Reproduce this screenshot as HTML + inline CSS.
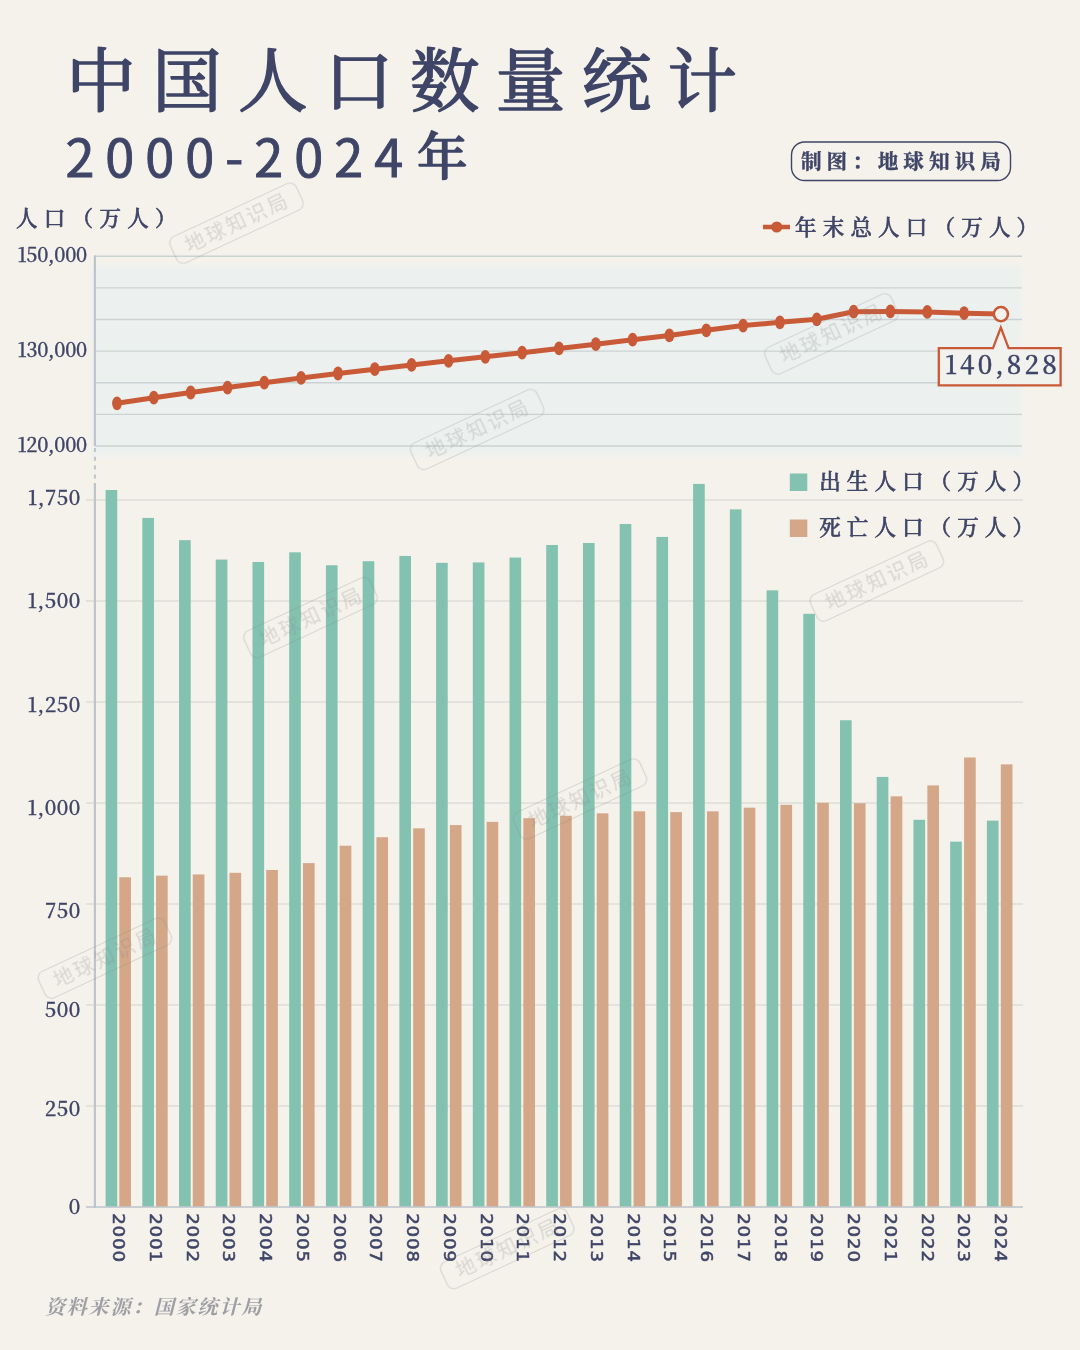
<!DOCTYPE html>
<html lang="zh-CN"><head><meta charset="utf-8"><title>中国人口数量统计 2000-2024年</title>
<style>
html,body{margin:0;padding:0;background:#f5f2eb;}
body{width:1080px;height:1350px;overflow:hidden;}
svg{display:block;}
text{font-family:"Noto Serif CJK SC","Liberation Serif",serif;fill:#3f4567;}
.title{font-size:69.5px;font-weight:400;letter-spacing:16.4px;stroke:#3f4567;stroke-width:1.7px;stroke-linejoin:round;}
.sub{font-family:"Noto Sans CJK SC","Liberation Sans",sans-serif;font-size:52.2px;font-weight:400;letter-spacing:11px;stroke:#3f4567;stroke-width:0.9px;}
.subc{font-family:"Noto Serif CJK SC","Liberation Serif",serif;font-size:50.6px;font-weight:500;stroke:#3f4567;stroke-width:1.4px;stroke-linejoin:round;}
.ylab{font-size:20.3px;font-weight:500;text-anchor:end;letter-spacing:0.5px;stroke:#3f4567;stroke-width:0.35px;}
.ylabt{font-size:19.6px;font-weight:500;text-anchor:end;letter-spacing:-0.25px;stroke:#3f4567;stroke-width:0.35px;}
.unit{font-size:21.5px;font-weight:500;letter-spacing:6.3px;stroke:#3f4567;stroke-width:0.6px;}
.leg{font-size:21.5px;font-weight:500;letter-spacing:6.2px;stroke:#3f4567;stroke-width:0.6px;}
.badge{font-size:20.6px;font-weight:700;letter-spacing:5px;stroke:#3f4567;stroke-width:0.4px;}
.year{font-family:"DejaVu Sans","Liberation Sans",sans-serif;font-size:17px;letter-spacing:0.8px;stroke:#3f4567;stroke-width:0.55px;}
.src{font-size:20px;font-weight:700;font-style:italic;fill:#9e9fa4;letter-spacing:1.8px;}
.call{font-size:25.6px;font-weight:500;letter-spacing:3.1px;stroke:#3f4567;stroke-width:0.5px;}
.wm text{font-family:"Noto Sans CJK SC","Liberation Sans",sans-serif;font-size:20px;font-weight:400;fill:#8a8a8a;letter-spacing:2.6px;text-anchor:middle;}
</style></head><body>
<svg width="1080" height="1350" viewBox="0 0 1080 1350">
<defs><filter id="bl" x="-5%" y="-10%" width="110%" height="120%"><feGaussianBlur stdDeviation="2.8"/></filter></defs>
<rect width="1080" height="1350" fill="#f5f2eb"/>

<text class="title" x="66.3" y="105.6">中国人口数量统计</text>
<text class="sub" x="65.4" y="177">2000-2024</text><text class="subc" x="417" y="175.3">年</text>
<rect x="791.5" y="142" width="219" height="38.5" rx="13" ry="13" fill="none" stroke="#3f4567" stroke-width="1.4"/>
<text class="badge" x="801" y="169.1">制图：地球知识局</text>
<text class="unit" x="16" y="226">人口（万人）</text>
<line x1="763" y1="227" x2="790" y2="227" stroke="#c95a38" stroke-width="4.5"/><circle cx="776.7" cy="227" r="5.6" fill="#c95a38"/>
<text class="leg" x="795" y="235">年末总人口（万人）</text>
<rect x="92" y="265.5" width="929" height="190.3" fill="#ecf1ef" filter="url(#bl)"/>
<line x1="95" y1="256.30" x2="1022" y2="256.30" stroke="#ccd2d3" stroke-width="1.4"/>
<line x1="95" y1="287.92" x2="1022" y2="287.92" stroke="#ccd2d3" stroke-width="1.4"/>
<line x1="95" y1="319.54" x2="1022" y2="319.54" stroke="#ccd2d3" stroke-width="1.4"/>
<line x1="95" y1="351.16" x2="1022" y2="351.16" stroke="#ccd2d3" stroke-width="1.4"/>
<line x1="95" y1="382.78" x2="1022" y2="382.78" stroke="#ccd2d3" stroke-width="1.4"/>
<line x1="95" y1="414.40" x2="1022" y2="414.40" stroke="#ccd2d3" stroke-width="1.4"/>
<line x1="95" y1="446.02" x2="1022" y2="446.02" stroke="#ccd2d3" stroke-width="1.4"/>
<line x1="86" y1="1207.00" x2="1023" y2="1207.00" stroke="#d2d2cf" stroke-width="1.15"/>
<line x1="86" y1="1106.00" x2="1023" y2="1106.00" stroke="#d2d2cf" stroke-width="1.15"/>
<line x1="86" y1="1005.00" x2="1023" y2="1005.00" stroke="#d2d2cf" stroke-width="1.15"/>
<line x1="86" y1="904.00" x2="1023" y2="904.00" stroke="#d2d2cf" stroke-width="1.15"/>
<line x1="86" y1="803.00" x2="1023" y2="803.00" stroke="#d2d2cf" stroke-width="1.15"/>
<line x1="86" y1="702.00" x2="1023" y2="702.00" stroke="#d2d2cf" stroke-width="1.15"/>
<line x1="86" y1="601.00" x2="1023" y2="601.00" stroke="#d2d2cf" stroke-width="1.15"/>
<line x1="86" y1="500.00" x2="1023" y2="500.00" stroke="#d2d2cf" stroke-width="1.15"/>
<rect x="105.60" y="489.98" width="11.65" height="717.02" fill="#83c2b1"/>
<rect x="119.30" y="877.27" width="11.65" height="329.73" fill="#d4a789"/>
<rect x="142.32" y="517.90" width="11.65" height="689.10" fill="#83c2b1"/>
<rect x="156.03" y="875.66" width="11.65" height="331.34" fill="#d4a789"/>
<rect x="179.04" y="540.16" width="11.65" height="666.84" fill="#83c2b1"/>
<rect x="192.76" y="874.44" width="11.65" height="332.56" fill="#d4a789"/>
<rect x="215.76" y="559.58" width="11.65" height="647.42" fill="#83c2b1"/>
<rect x="229.49" y="872.82" width="11.65" height="334.18" fill="#d4a789"/>
<rect x="252.48" y="562.01" width="11.65" height="644.99" fill="#83c2b1"/>
<rect x="266.22" y="869.99" width="11.65" height="337.01" fill="#d4a789"/>
<rect x="289.20" y="552.30" width="11.65" height="654.70" fill="#83c2b1"/>
<rect x="302.95" y="863.11" width="11.65" height="343.89" fill="#d4a789"/>
<rect x="325.92" y="565.25" width="11.65" height="641.75" fill="#83c2b1"/>
<rect x="339.68" y="845.71" width="11.65" height="361.29" fill="#d4a789"/>
<rect x="362.64" y="561.20" width="11.65" height="645.80" fill="#83c2b1"/>
<rect x="376.41" y="837.21" width="11.65" height="369.79" fill="#d4a789"/>
<rect x="399.36" y="555.94" width="11.65" height="651.06" fill="#83c2b1"/>
<rect x="413.14" y="828.31" width="11.65" height="378.69" fill="#d4a789"/>
<rect x="436.08" y="562.82" width="11.65" height="644.18" fill="#83c2b1"/>
<rect x="449.87" y="825.07" width="11.65" height="381.93" fill="#d4a789"/>
<rect x="472.80" y="562.42" width="11.65" height="644.58" fill="#83c2b1"/>
<rect x="486.60" y="821.83" width="11.65" height="385.17" fill="#d4a789"/>
<rect x="509.52" y="557.56" width="11.65" height="649.44" fill="#83c2b1"/>
<rect x="523.33" y="818.19" width="11.65" height="388.81" fill="#d4a789"/>
<rect x="546.24" y="545.02" width="11.65" height="661.98" fill="#83c2b1"/>
<rect x="560.06" y="815.76" width="11.65" height="391.24" fill="#d4a789"/>
<rect x="582.96" y="542.99" width="11.65" height="664.01" fill="#83c2b1"/>
<rect x="596.79" y="813.33" width="11.65" height="393.67" fill="#d4a789"/>
<rect x="619.68" y="523.97" width="11.65" height="683.03" fill="#83c2b1"/>
<rect x="633.52" y="811.31" width="11.65" height="395.69" fill="#d4a789"/>
<rect x="656.40" y="536.92" width="11.65" height="670.08" fill="#83c2b1"/>
<rect x="670.25" y="812.12" width="11.65" height="394.88" fill="#d4a789"/>
<rect x="693.12" y="483.91" width="11.65" height="723.09" fill="#83c2b1"/>
<rect x="706.98" y="811.31" width="11.65" height="395.69" fill="#d4a789"/>
<rect x="729.84" y="509.40" width="11.65" height="697.60" fill="#83c2b1"/>
<rect x="743.71" y="807.67" width="11.65" height="399.33" fill="#d4a789"/>
<rect x="766.56" y="590.34" width="11.65" height="616.66" fill="#83c2b1"/>
<rect x="780.44" y="804.83" width="11.65" height="402.17" fill="#d4a789"/>
<rect x="803.28" y="613.81" width="11.65" height="593.19" fill="#83c2b1"/>
<rect x="817.17" y="802.81" width="11.65" height="404.19" fill="#d4a789"/>
<rect x="840.00" y="720.25" width="11.65" height="486.75" fill="#83c2b1"/>
<rect x="853.90" y="803.21" width="11.65" height="403.79" fill="#d4a789"/>
<rect x="876.72" y="776.91" width="11.65" height="430.09" fill="#83c2b1"/>
<rect x="890.63" y="796.33" width="11.65" height="410.67" fill="#d4a789"/>
<rect x="913.44" y="819.81" width="11.65" height="387.19" fill="#83c2b1"/>
<rect x="927.36" y="785.41" width="11.65" height="421.59" fill="#d4a789"/>
<rect x="950.16" y="841.66" width="11.65" height="365.34" fill="#83c2b1"/>
<rect x="964.09" y="757.48" width="11.65" height="449.52" fill="#d4a789"/>
<rect x="986.88" y="820.62" width="11.65" height="386.38" fill="#83c2b1"/>
<rect x="1000.82" y="764.36" width="11.65" height="442.64" fill="#d4a789"/>
<line x1="86" y1="1207.0" x2="1023" y2="1207.0" stroke="#c2c8cf" stroke-width="1.6"/>
<line x1="94.9" y1="255.4" x2="94.9" y2="446" stroke="#bec4cd" stroke-width="2.2"/>
<line x1="94.9" y1="448" x2="94.9" y2="480" stroke="#bec4cd" stroke-width="2" stroke-dasharray="4 4.8"/>
<line x1="94.9" y1="483" x2="94.9" y2="1207.9" stroke="#bec4cd" stroke-width="2.2"/>
<text class="ylabt" x="86.9" y="262.2">150,000</text>
<text class="ylabt" x="86.9" y="357.0">130,000</text>
<text class="ylabt" x="86.9" y="452.2">120,000</text>
<text class="ylab" x="80.8" y="504.9">1,750</text>
<text class="ylab" x="80.8" y="608.1">1,500</text>
<text class="ylab" x="80.8" y="711.6">1,250</text>
<text class="ylab" x="80.8" y="814.5">1,000</text>
<text class="ylab" x="80.8" y="918.0">750</text>
<text class="ylab" x="80.8" y="1017.2">500</text>
<text class="ylab" x="80.8" y="1115.6">250</text>
<text class="ylab" x="80.8" y="1213.6">0</text>
<polyline fill="none" stroke="#c95a38" stroke-width="5" stroke-linejoin="round" stroke-linecap="round" points="117.0,403.3 153.8,397.7 190.7,392.5 227.5,387.6 264.3,382.7 301.1,377.9 338.0,373.5 374.8,369.2 411.6,364.9 448.5,360.8 485.3,356.8 522.1,352.7 559.0,348.4 595.8,344.2 632.6,339.7 669.4,335.4 706.3,330.3 743.1,325.6 779.9,322.3 816.8,319.3 853.6,311.7 890.4,311.4 927.3,311.9 964.1,313.2 1000.9,314.1"/>
<ellipse cx="117.0" cy="403.3" rx="4.9" ry="6.9" fill="#c95a38"/>
<ellipse cx="153.8" cy="397.7" rx="4.9" ry="6.9" fill="#c95a38"/>
<ellipse cx="190.7" cy="392.5" rx="4.9" ry="6.9" fill="#c95a38"/>
<ellipse cx="227.5" cy="387.6" rx="4.9" ry="6.9" fill="#c95a38"/>
<ellipse cx="264.3" cy="382.7" rx="4.9" ry="6.9" fill="#c95a38"/>
<ellipse cx="301.1" cy="377.9" rx="4.9" ry="6.9" fill="#c95a38"/>
<ellipse cx="338.0" cy="373.5" rx="4.9" ry="6.9" fill="#c95a38"/>
<ellipse cx="374.8" cy="369.2" rx="4.9" ry="6.9" fill="#c95a38"/>
<ellipse cx="411.6" cy="364.9" rx="4.9" ry="6.9" fill="#c95a38"/>
<ellipse cx="448.5" cy="360.8" rx="4.9" ry="6.9" fill="#c95a38"/>
<ellipse cx="485.3" cy="356.8" rx="4.9" ry="6.9" fill="#c95a38"/>
<ellipse cx="522.1" cy="352.7" rx="4.9" ry="6.9" fill="#c95a38"/>
<ellipse cx="559.0" cy="348.4" rx="4.9" ry="6.9" fill="#c95a38"/>
<ellipse cx="595.8" cy="344.2" rx="4.9" ry="6.9" fill="#c95a38"/>
<ellipse cx="632.6" cy="339.7" rx="4.9" ry="6.9" fill="#c95a38"/>
<ellipse cx="669.4" cy="335.4" rx="4.9" ry="6.9" fill="#c95a38"/>
<ellipse cx="706.3" cy="330.3" rx="4.9" ry="6.9" fill="#c95a38"/>
<ellipse cx="743.1" cy="325.6" rx="4.9" ry="6.9" fill="#c95a38"/>
<ellipse cx="779.9" cy="322.3" rx="4.9" ry="6.9" fill="#c95a38"/>
<ellipse cx="816.8" cy="319.3" rx="4.9" ry="6.9" fill="#c95a38"/>
<ellipse cx="853.6" cy="311.7" rx="4.9" ry="6.9" fill="#c95a38"/>
<ellipse cx="890.4" cy="311.4" rx="4.9" ry="6.9" fill="#c95a38"/>
<ellipse cx="927.3" cy="311.9" rx="4.9" ry="6.9" fill="#c95a38"/>
<ellipse cx="964.1" cy="313.2" rx="4.9" ry="6.9" fill="#c95a38"/>
<circle cx="1000.9" cy="314.1" r="7.1" fill="#f3f2ee" stroke="#c95a38" stroke-width="2.6"/>
<path d="M938.8 348.2 H993 L1000.8 327.5 L1008.6 348.2 H1060.6 V385.3 H938.8 Z" fill="#f1f1ee" stroke="#c95a38" stroke-width="2.3" stroke-linejoin="miter"/>
<text class="call" x="945" y="374.4">140,828</text>
<rect x="789.8" y="473.5" width="17.5" height="17.5" fill="#83c2b1"/>
<text class="leg" x="819.2" y="489.3" style="letter-spacing:6.1px">出生人口（万人）</text>
<rect x="789.8" y="519.5" width="17.5" height="17.5" fill="#d4a789"/>
<text class="leg" x="819.2" y="535.3" style="letter-spacing:6.1px">死亡人口（万人）</text>
<text class="year" transform="translate(113.20,1213.2) rotate(90) scale(1.07,0.95)">2000</text>
<text class="year" transform="translate(149.95,1213.2) rotate(90) scale(1.07,0.95)">2001</text>
<text class="year" transform="translate(186.70,1213.2) rotate(90) scale(1.07,0.95)">2002</text>
<text class="year" transform="translate(223.45,1213.2) rotate(90) scale(1.07,0.95)">2003</text>
<text class="year" transform="translate(260.20,1213.2) rotate(90) scale(1.07,0.95)">2004</text>
<text class="year" transform="translate(296.95,1213.2) rotate(90) scale(1.07,0.95)">2005</text>
<text class="year" transform="translate(333.70,1213.2) rotate(90) scale(1.07,0.95)">2006</text>
<text class="year" transform="translate(370.45,1213.2) rotate(90) scale(1.07,0.95)">2007</text>
<text class="year" transform="translate(407.20,1213.2) rotate(90) scale(1.07,0.95)">2008</text>
<text class="year" transform="translate(443.95,1213.2) rotate(90) scale(1.07,0.95)">2009</text>
<text class="year" transform="translate(480.70,1213.2) rotate(90) scale(1.07,0.95)">2010</text>
<text class="year" transform="translate(517.45,1213.2) rotate(90) scale(1.07,0.95)">2011</text>
<text class="year" transform="translate(554.20,1213.2) rotate(90) scale(1.07,0.95)">2012</text>
<text class="year" transform="translate(590.95,1213.2) rotate(90) scale(1.07,0.95)">2013</text>
<text class="year" transform="translate(627.70,1213.2) rotate(90) scale(1.07,0.95)">2014</text>
<text class="year" transform="translate(664.45,1213.2) rotate(90) scale(1.07,0.95)">2015</text>
<text class="year" transform="translate(701.20,1213.2) rotate(90) scale(1.07,0.95)">2016</text>
<text class="year" transform="translate(737.95,1213.2) rotate(90) scale(1.07,0.95)">2017</text>
<text class="year" transform="translate(774.70,1213.2) rotate(90) scale(1.07,0.95)">2018</text>
<text class="year" transform="translate(811.45,1213.2) rotate(90) scale(1.07,0.95)">2019</text>
<text class="year" transform="translate(848.20,1213.2) rotate(90) scale(1.07,0.95)">2020</text>
<text class="year" transform="translate(884.95,1213.2) rotate(90) scale(1.07,0.95)">2021</text>
<text class="year" transform="translate(921.70,1213.2) rotate(90) scale(1.07,0.95)">2022</text>
<text class="year" transform="translate(958.45,1213.2) rotate(90) scale(1.07,0.95)">2023</text>
<text class="year" transform="translate(995.20,1213.2) rotate(90) scale(1.07,0.95)">2024</text>
<text class="src" x="45" y="1314">资料来源：国家统计局</text>
<g class="wm" opacity="0.27">
<g transform="translate(236.5,223.2) rotate(-25)"><rect x="-69.5" y="-14.5" width="139" height="29" rx="7" fill="none" stroke="#8a8a8a" stroke-width="1.2"/><text x="1" y="7.2">地球知识局</text></g>
<g transform="translate(477.2,429.5) rotate(-25)"><rect x="-69.5" y="-14.5" width="139" height="29" rx="7" fill="none" stroke="#8a8a8a" stroke-width="1.2"/><text x="1" y="7.2">地球知识局</text></g>
<g transform="translate(831.4,333.9) rotate(-25)"><rect x="-69.5" y="-14.5" width="139" height="29" rx="7" fill="none" stroke="#8a8a8a" stroke-width="1.2"/><text x="1" y="7.2">地球知识局</text></g>
<g transform="translate(876.8,581.1) rotate(-25)"><rect x="-69.5" y="-14.5" width="139" height="29" rx="7" fill="none" stroke="#8a8a8a" stroke-width="1.2"/><text x="1" y="7.2">地球知识局</text></g>
<g transform="translate(310.5,617.6) rotate(-25)"><rect x="-69.5" y="-14.5" width="139" height="29" rx="7" fill="none" stroke="#8a8a8a" stroke-width="1.2"/><text x="1" y="7.2">地球知识局</text></g>
<g transform="translate(580,799) rotate(-25)"><rect x="-69.5" y="-14.5" width="139" height="29" rx="7" fill="none" stroke="#8a8a8a" stroke-width="1.2"/><text x="1" y="7.2">地球知识局</text></g>
<g transform="translate(104.9,958.1) rotate(-25)"><rect x="-69.5" y="-14.5" width="139" height="29" rx="7" fill="none" stroke="#8a8a8a" stroke-width="1.2"/><text x="1" y="7.2">地球知识局</text></g>
<g transform="translate(507.2,1248.6) rotate(-25)"><rect x="-69.5" y="-14.5" width="139" height="29" rx="7" fill="none" stroke="#8a8a8a" stroke-width="1.2"/><text x="1" y="7.2">地球知识局</text></g>
</g>
</svg></body></html>
